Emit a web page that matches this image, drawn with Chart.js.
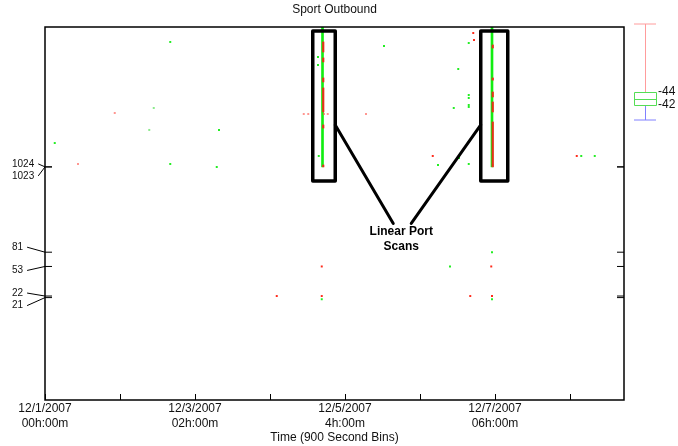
<!DOCTYPE html>
<html>
<head>
<meta charset="utf-8">
<title>Sport Outbound</title>
<script src="https://cdn.jsdelivr.net/npm/chart.js@4.4.1/dist/chart.umd.min.js"></script>
<style>
  html, body { margin: 0; padding: 0; background: #fff; }
  canvas { display: block; }
</style>
</head>
<body>
<canvas id="sportChart" width="678" height="446"></canvas>
<script>
// titles and axis labels
const chartTitle = 'Sport Outbound';
const xAxisTitle = 'Time (900 Second Bins)';
const xTickValues = [0, 1, 2, 3, 4, 5, 6, 7];
const xLabelValues = [0, 2, 4, 6];
const xLabelDates = ['12/1/2007', '12/3/2007', '12/5/2007', '12/7/2007'];
const xLabelTimes = ['00h:00m', '02h:00m', '4h:00m', '06h:00m'];
const yTickValues = [1024, 1023, 81, 53, 22, 21];
const legendLabels = ['-44', '-42'];

// scattered flows (x = time, y = source port)
const greenPoints = [
  {x: 1.67, y: 42000}, {x: 2.32, y: 3070}, {x: 0.13, y: 2080}, {x: 1.67, y: 1116},
  {x: 2.29, y: 1020}, {x: 3.64, y: 26900}, {x: 3.64, y: 21200}, {x: 3.65, y: 1416},
  {x: 4.52, y: 37300}, {x: 5.24, y: 1083}, {x: 5.65, y: 40700}, {x: 5.51, y: 18800},
  {x: 5.65, y: 8680}, {x: 5.65, y: 7940}, {x: 5.65, y: 6450}, {x: 5.65, y: 6080},
  {x: 5.45, y: 5900}, {x: 5.65, y: 2150}, {x: 5.52, y: 1334}, {x: 5.65, y: 1116},
  {x: 7.15, y: 1416}, {x: 7.33, y: 1416}, {x: 5.96, y: 81}, {x: 5.4, y: 53},
  {x: 3.69, y: 20}, {x: 5.96, y: 20}
];
const lightGreenPoints = [
  {x: 1.45, y: 5900}, {x: 1.39, y: 3070}
];
const redPoints = [
  {x: 5.71, y: 54800}, {x: 5.72, y: 44500}, {x: 3.69, y: 53}, {x: 5.95, y: 53},
  {x: 3.09, y: 22}, {x: 3.69, y: 22}, {x: 5.67, y: 22}, {x: 5.96, y: 22},
  {x: 5.17, y: 1416}, {x: 7.09, y: 1416}
];
const lightRedPoints = [
  {x: 0.93, y: 5080}, {x: 0.44, y: 1116}, {x: 3.45, y: 4930}, {x: 3.51, y: 4930},
  {x: 3.72, y: 4930}, {x: 3.77, y: 4930}, {x: 4.28, y: 4930}
];

// linear scans: port ranges hit in one bin
const scanGreen = [
  {x: 3.70, y: [1024, 65535]},
  {x: 5.96, y: [1024, 65535]}
];
const scanRed = [
  {x: 3.71, y: [31200, 42000]}, {x: 3.71, y: [23200, 26100]}, {x: 3.71, y: [12800, 14400]},
  {x: 3.71, y: [5240, 10700]}, {x: 3.71, y: [3250, 3560]}, {x: 3.71, y: [1024, 1083]},
  {x: 5.97, y: [35100, 38400]}, {x: 5.97, y: [13500, 14400]}, {x: 5.97, y: [8190, 9490]},
  {x: 5.97, y: [5240, 7050]}, {x: 5.97, y: [1083, 3890]}, {x: 5.97, y: [1024, 1083]}
];

// annotation boxes around the scans
const scanBoxes = [
  {x0: 3.57, x1: 3.87, lo: 673, hi: 58200},
  {x0: 5.81, x1: 6.17, lo: 673, hi: 58200}
];
const scanNote = ['Linear Port', 'Scans'];

const fontFam = '"Liberation Sans", Arial, Helvetica, sans-serif';
const yLabelShift = [-3, 9, -5, 4, -3, 8];

const decorations = {
  id: 'decorations',
  afterDatasetsDraw(chart) {
    const {ctx, chartArea: a, scales: {x, y}} = chart;
    ctx.save();
    ctx.fillStyle = '#111';
    ctx.strokeStyle = '#000';

    // frame
    ctx.lineWidth = 1.5;
    ctx.strokeRect(a.left, a.top, a.right - a.left, a.bottom - a.top);

    // x ticks (inward)
    ctx.lineWidth = 1;
    xTickValues.forEach(v => {
      const px = Math.round(x.getPixelForValue(v)) + 0.5;
      ctx.beginPath(); ctx.moveTo(px, a.bottom); ctx.lineTo(px, a.bottom - 6); ctx.stroke();
    });

    // x labels
    ctx.font = '12px ' + fontFam;
    ctx.textAlign = 'center';
    ctx.textBaseline = 'middle';
    xLabelValues.forEach((v, i) => {
      const px = x.getPixelForValue(v);
      ctx.fillText(xLabelDates[i], px, a.bottom + 9);
      ctx.fillText(xLabelTimes[i], px, a.bottom + 24);
    });
    ctx.fillText(xAxisTitle, (a.left + a.right) / 2, a.bottom + 38);
    ctx.fillText(chartTitle, (a.left + a.right) / 2, 10);

    // y ticks with leader lines
    ctx.font = '10px ' + fontFam;
    ctx.textAlign = 'left';
    yTickValues.forEach((v, i) => {
      const py = y.getPixelForValue(v);
      ctx.lineWidth = 1;
      ctx.beginPath(); ctx.moveTo(a.left, py); ctx.lineTo(a.left + 7, py); ctx.stroke();
      ctx.beginPath(); ctx.moveTo(a.right, py); ctx.lineTo(a.right - 7, py); ctx.stroke();
      const txt = String(v);
      const ly = py + yLabelShift[i];
      const w = ctx.measureText(txt).width;
      ctx.fillText(txt, 12, ly);
      ctx.beginPath(); ctx.moveTo(12 + w + 4, ly); ctx.lineTo(a.left, py); ctx.stroke();
    });

    // scan boxes + leaders + note
    ctx.lineWidth = 3.5;
    ctx.lineJoin = 'round';
    const boxes = scanBoxes.map(b => ({
      l: x.getPixelForValue(b.x0), r: x.getPixelForValue(b.x1),
      t: y.getPixelForValue(b.hi), b: y.getPixelForValue(b.lo)
    }));
    boxes.forEach(b => ctx.strokeRect(b.l, b.t, b.r - b.l, b.b - b.t));
    const noteX = x.getPixelForValue(4.75);
    const noteY = y.getPixelForValue(150);
    const legY = y.getPixelForValue(3560);
    ctx.lineWidth = 3;
    ctx.lineCap = 'round';
    ctx.beginPath(); ctx.moveTo(boxes[0].r, legY); ctx.lineTo(noteX - 8, noteY - 8); ctx.stroke();
    ctx.beginPath(); ctx.moveTo(boxes[1].l, legY); ctx.lineTo(noteX + 10, noteY - 8); ctx.stroke();
    ctx.font = 'bold 12px ' + fontFam;
    ctx.textAlign = 'center';
    ctx.fillStyle = '#000';
    ctx.fillText(scanNote[0], noteX, noteY);
    ctx.fillText(scanNote[1], noteX, noteY + 15);

    // box legend on the right
    const bx = a.right + 21, half = 11;
    ctx.lineWidth = 1;
    ctx.lineCap = 'butt';
    ctx.strokeStyle = '#ff9c9c';
    ctx.beginPath(); ctx.moveTo(bx - half, 24); ctx.lineTo(bx + half, 24);
    ctx.moveTo(bx + 0.5, 24); ctx.lineTo(bx + 0.5, 92); ctx.stroke();
    ctx.strokeStyle = '#8080ff';
    ctx.beginPath(); ctx.moveTo(bx + 0.5, 106); ctx.lineTo(bx + 0.5, 120);
    ctx.moveTo(bx - half, 120); ctx.lineTo(bx + half, 120); ctx.stroke();
    ctx.strokeStyle = '#55dd55';
    ctx.strokeRect(bx - half + 0.5, 92.5, 2 * half, 13);
    ctx.beginPath(); ctx.moveTo(bx - half, 99.5); ctx.lineTo(bx + half, 99.5); ctx.stroke();
    ctx.fillStyle = '#111';
    ctx.font = '12px ' + fontFam;
    ctx.textAlign = 'left';
    ctx.fillText(legendLabels[0], bx + half + 2, 92);
    ctx.fillText(legendLabels[1], bx + half + 2, 105);
    ctx.restore();
  }
};

const dotStyle = (color) => ({
  type: 'scatter',
  pointStyle: 'rect',
  pointRadius: 1.4,
  pointBorderWidth: 0,
  backgroundColor: color,
  borderColor: color
});

// first dataset is painted last (on top)
new Chart(document.getElementById('sportChart').getContext('2d'), {
  type: 'scatter',
  data: {
    datasets: [
      Object.assign({data: redPoints}, dotStyle('#ff2a1a')),
      Object.assign({data: lightRedPoints}, dotStyle('rgba(255,80,70,0.6)')),
      Object.assign({data: greenPoints}, dotStyle('#22ee22')),
      Object.assign({data: lightGreenPoints}, dotStyle('rgba(60,220,60,0.6)')),
      {type: 'bar', data: scanRed, backgroundColor: '#e8301a', barThickness: 1.5, grouped: false},
      {type: 'bar', data: scanGreen, backgroundColor: '#11ee11', barThickness: 2, grouped: false}
    ]
  },
  options: {
    responsive: false,
    animation: false,
    devicePixelRatio: 1,
    layout: {padding: {left: 45, top: 27, right: 54, bottom: 46}},
    plugins: {legend: {display: false}, tooltip: {enabled: false}, title: {display: false}},
    scales: {
      x: {
        type: 'linear', min: 0, max: 7.72, offset: false,
        ticks: {display: false}, grid: {display: false}, border: {display: false},
        afterFit: s => { s.height = 0; }
      },
      y: {
        type: 'logarithmic', min: 1, max: 65536,
        ticks: {display: false}, grid: {display: false}, border: {display: false},
        afterFit: s => { s.width = 0; }
      }
    }
  },
  plugins: [decorations]
});
</script>
</body>
</html>
